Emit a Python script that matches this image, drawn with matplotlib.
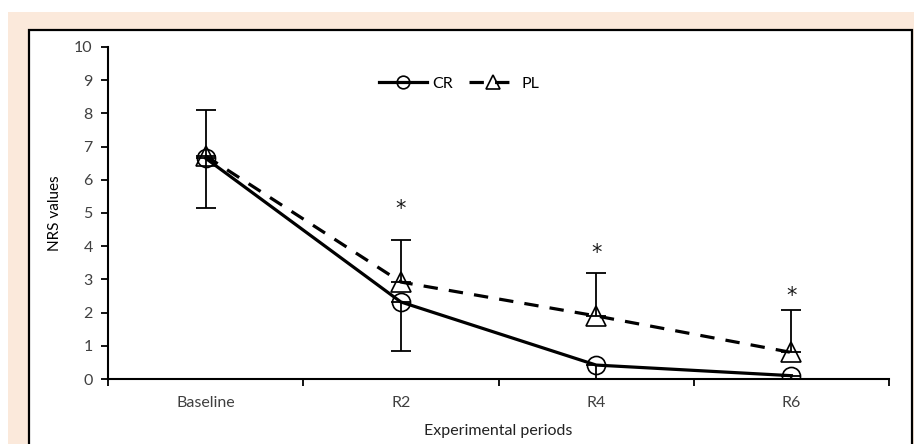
import matplotlib
matplotlib.use("Agg")
import matplotlib.pyplot as plt
from matplotlib.patches import Rectangle
from matplotlib.ticker import FixedLocator
import numpy as np

plt.rcParams["font.family"] = ["Lato", "DejaVu Sans"]

periods = ["Baseline", "R2", "R4", "R6"]
cr_mean = [6.65, 2.32, 0.42, 0.10]
pl_mean = [6.72, 2.92, 1.90, 0.80]
cr_err_low = [1.50, 1.47, 0.90, 0.40]
pl_err_high = [1.38, 1.28, 1.30, 1.28]
star_y = [None, 5.30, 3.95, 2.68]

W, H = 914, 444
fig = plt.figure(figsize=(W / 100, H / 100), dpi=100, facecolor="white")

# page background and framed white box
fig.add_artist(Rectangle((8 / W, 0), 1 - 8 / W, 1 - 12 / H, transform=fig.transFigure,
                         facecolor="#fbe9db", edgecolor="none", zorder=0))
fig.add_artist(Rectangle((29 / W, -0.01), (912 - 29) / W, 1 - 30 / H + 0.01,
                         transform=fig.transFigure, facecolor="white",
                         edgecolor="black", linewidth=1.6, zorder=0.5))

ax = fig.add_axes([108 / W, 1 - 379 / H, (889 - 108) / W, (379 - 47) / H])
ax.set_facecolor("none")
ax.set_zorder(2)

x = np.arange(len(periods))
ax.errorbar(x, cr_mean, yerr=[cr_err_low, [0] * 4], fmt="none", ecolor="black",
            elinewidth=1.3, capsize=7, capthick=1.3, zorder=2)
ax.errorbar(x, pl_mean, yerr=[[0] * 4, pl_err_high], fmt="none", ecolor="black",
            elinewidth=1.3, capsize=7, capthick=1.3, zorder=2)

ax.plot(x, cr_mean, color="black", linewidth=2.3, marker="o", markersize=13,
        markerfacecolor="none", markeredgecolor="black", markeredgewidth=1.2,
        label="CR", zorder=3)
ax.plot(x, pl_mean, color="black", linewidth=2.3, linestyle=(0, (4.5, 3.5)),
        marker="^", markersize=14, markerfacecolor="none",
        markeredgecolor="black", markeredgewidth=1.2, label="PL", zorder=3)

# significance marks (glyph sits above baseline, so shift down a bit)
for xi, yi in zip(x, star_y):
    if yi is not None:
        ax.text(xi, yi - 0.35, "*", ha="center", va="baseline", fontsize=15,
                family="DejaVu Sans", color="#1a1a1a")

ax.set_xlim(-0.5, len(periods) - 0.5)
ax.set_ylim(0, 10)
ax.set_yticks(range(0, 11))
ax.set_xticks(x)
ax.set_xticklabels(periods)
ax.xaxis.set_minor_locator(FixedLocator(np.arange(-0.5, len(periods), 1.0)))
ax.tick_params(axis="x", which="major", length=0, pad=12, labelsize=11.5,
               colors="#404040")
ax.tick_params(axis="x", which="minor", length=5, width=1.3, direction="out")
ax.tick_params(axis="y", length=5, width=1.3, direction="out", labelsize=11.5,
               labelcolor="#404040", pad=6)

for side in ("top", "right"):
    ax.spines[side].set_visible(False)
for side in ("left", "bottom"):
    ax.spines[side].set_linewidth(1.5)

ax.set_ylabel("NRS values", fontsize=11, color="black", labelpad=9)
ax.set_xlabel("Experimental periods", fontsize=11.5, color="#222222", labelpad=10)

ax.legend(loc="center", bbox_to_anchor=(0.45, 0.889), ncol=2, frameon=False,
          fontsize=11.5, handlelength=3.0, columnspacing=1.0, handletextpad=0.3,
          markerscale=0.7)

fig.savefig("out.png", dpi=100, facecolor="white")
